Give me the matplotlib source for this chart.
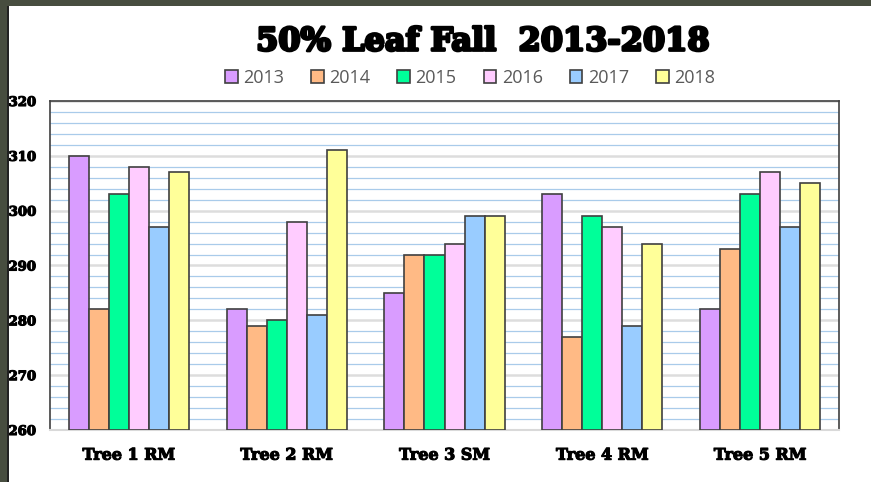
import numpy as np
import matplotlib.pyplot as plt
import matplotlib.patheffects as pe
from matplotlib.patches import Rectangle

# data
trees = ['Tree 1 RM', 'Tree 2 RM', 'Tree 3 SM', 'Tree 4 RM', 'Tree 5 RM']
years = ['2013', '2014', '2015', '2016', '2017', '2018']
y2013 = [310, 282, 285, 303, 282]
y2014 = [282, 279, 292, 277, 293]
y2015 = [303, 280, 292, 299, 303]
y2016 = [308, 298, 294, 297, 307]
y2017 = [297, 281, 299, 279, 297]
y2018 = [307, 311, 299, 294, 305]
colors = ['#D99CFF', '#FFBA85', '#00FF99', '#FFCCFF', '#99CCFF', '#FFFF99']

series = [y2013, y2014, y2015, y2016, y2017, y2018]

fig = plt.figure(figsize=(8.71, 4.82), dpi=100)
fig.patch.set_facecolor('white')

# dark screenshot frame on top and left
fig.add_artist(Rectangle((0, 1 - 6 / 482), 1, 6 / 482, transform=fig.transFigure,
                         facecolor='#474d3f', edgecolor='none'))
fig.add_artist(Rectangle((0, 0), 7 / 871, 1, transform=fig.transFigure,
                         facecolor='#474d3f', edgecolor='none'))
fig.add_artist(Rectangle((7 / 871, 0), 1.5 / 871, 1 - 6 / 482, transform=fig.transFigure,
                         facecolor='#222222', edgecolor='none'))

ax = fig.add_axes([50 / 871, 52 / 482, 789 / 871, 329 / 482])

x = np.arange(len(trees))
w = 0.127
for i, (vals, c, yr) in enumerate(zip(series, colors, years)):
    base = 260
    ax.bar(x + (i - 2.5) * w, np.array(vals) - base, w, bottom=base, color=c,
           edgecolor='#404040', linewidth=1.2, label=yr, zorder=3)

ax.set_xlim(-0.5, len(trees) - 0.5)
ax.set_ylim(260, 320)
ax.set_yticks(np.arange(260, 321, 10))
ax.set_yticks(np.arange(260, 321, 2), minor=True)
ax.grid(axis='y', which='minor', color='#A9CBEA', linewidth=0.9, zorder=0)
ax.grid(axis='y', which='major', color='#DDDDDD', linewidth=1.8, zorder=1)
ax.tick_params(axis='both', which='both', length=0)
ax.tick_params(axis='y', pad=10)
ax.tick_params(axis='x', pad=12)

stroke = [pe.withStroke(linewidth=0.8, foreground='black')]
ax.set_xticks(x)
ax.set_xticklabels(trees, fontfamily='DejaVu Serif', fontweight='bold', fontsize=11.5,
                   path_effects=stroke)
for lab in ax.get_yticklabels():
    lab.set_fontfamily('DejaVu Serif')
    lab.set_fontweight('bold')
    lab.set_fontsize(9.5)
    lab.set_path_effects(stroke)

for s in ['left', 'top', 'right']:
    ax.spines[s].set_color('#404040')
    ax.spines[s].set_linewidth(1.2)
ax.spines['bottom'].set_color('#D9D9D9')
ax.spines['bottom'].set_linewidth(1.5)

fig.text(483 / 871, 1 - 42 / 482, '50% Leaf Fall  2013-2018', ha='center', va='center',
         fontfamily='DejaVu Serif', fontweight='bold', fontsize=23,
         path_effects=[pe.withStroke(linewidth=2, foreground='black')])

fig.legend(loc='center', bbox_to_anchor=(470 / 871, 1 - 78 / 482), ncol=6,
           frameon=False, handlelength=0.7, handleheight=0.7,
           handletextpad=0.3, columnspacing=1.5, prop={'family': 'Open Sans', 'size': 13})
for t in fig.legends[0].get_texts():
    t.set_color('#595959')

fig.savefig('out.png', dpi=100)
